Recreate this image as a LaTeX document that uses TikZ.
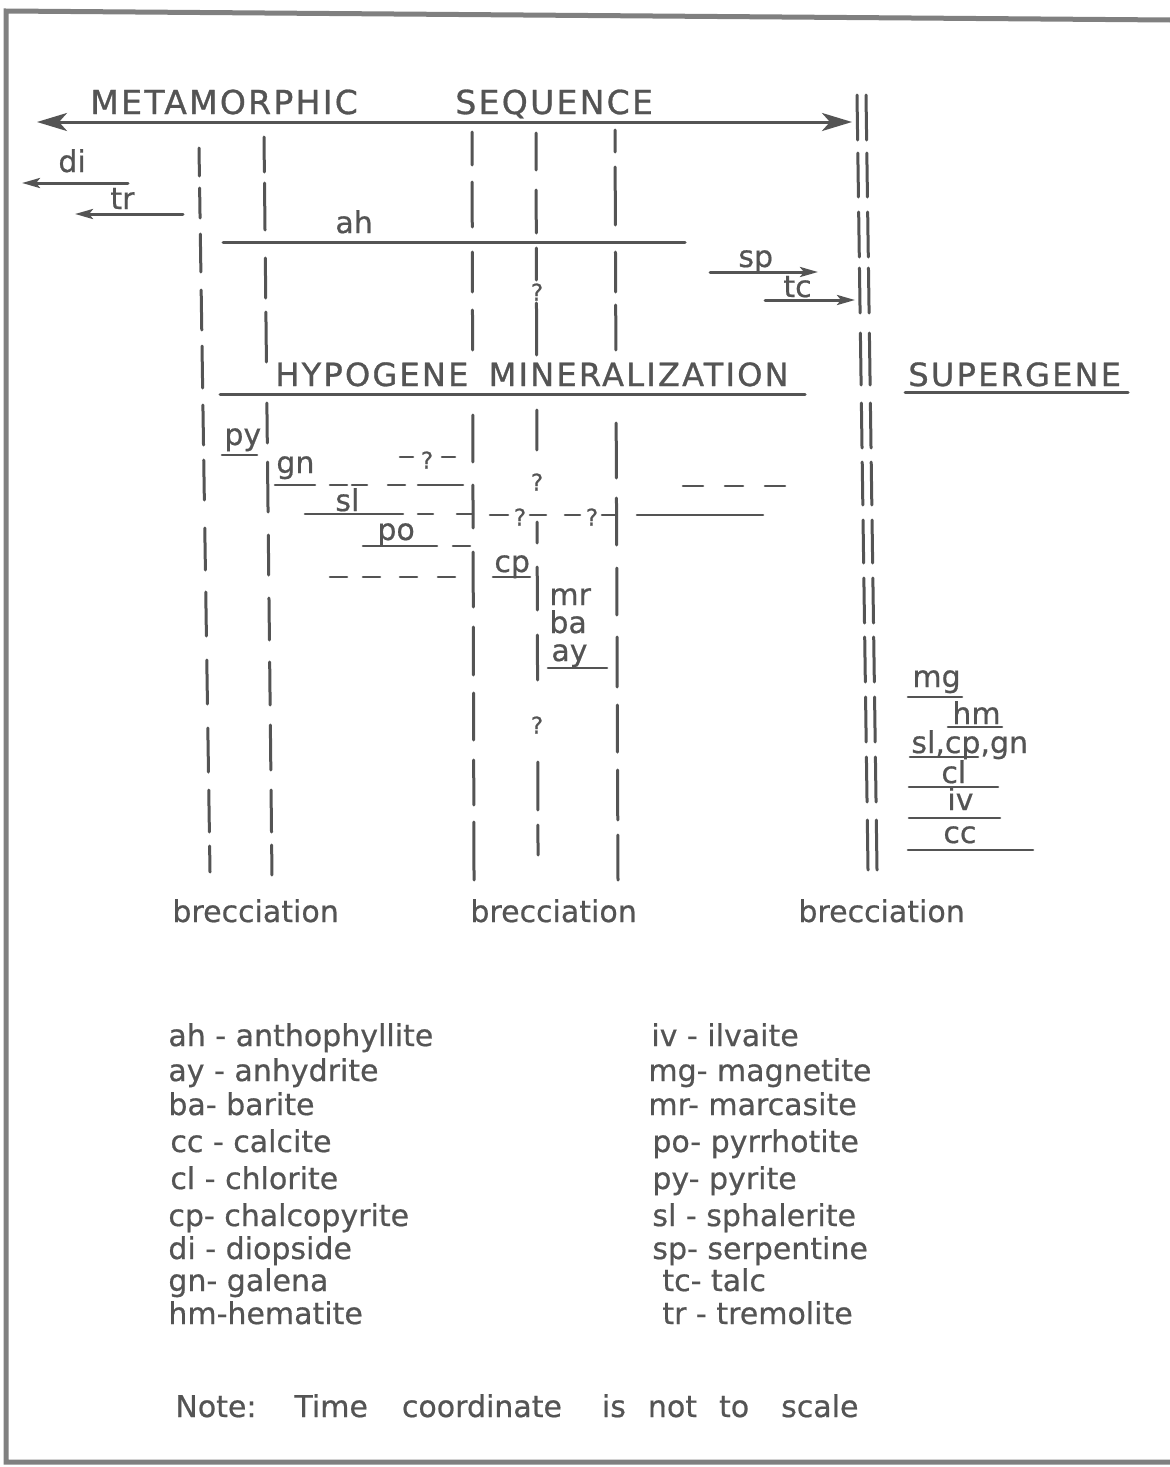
\documentclass[tikz,border=0pt]{standalone}
\usepackage{fontspec}
\setmainfont[FakeBold=0.6]{DejaVu Sans}
\newfontfamily\capsfont[LetterSpace=7,FakeBold=0.9]{DejaVu Sans}
\usetikzlibrary{arrows.meta}
\definecolor{ink}{gray}{0.33}
\definecolor{framec}{gray}{0.5}
\begin{document}
\begin{tikzpicture}[x=0.5pt,y=-0.5pt,
  bar/.style={draw=ink,line width=1.5pt,line cap=round},
  uline/.style={draw=ink,line width=1.3pt,line cap=round},
  bigarrows/.style={<->,>={Stealth[length=15pt,width=9pt,inset=4pt]}},
  smallarrow/.style={-{Stealth[length=9pt,width=5pt,inset=2pt]}},
  lbl/.style={text=ink,inner sep=0pt,anchor=base west,font=\fontsize{15}{18}\selectfont},
  head/.style={text=ink,inner sep=0pt,anchor=base west,font=\capsfont\fontsize{16.5}{20}\selectfont},
  qm/.style={text=ink,inner sep=0pt,font=\fontsize{11.5}{13}\selectfont},
  leg/.style={text=ink,inner sep=0pt,anchor=base west,font=\fontsize{15}{18}\selectfont},
  border/.style={draw=framec,line width=2.5pt}
]
\useasboundingbox (0,0) rectangle (1170,1467);
\fill[white] (0,0) rectangle (1170,1467);

% frame
\draw[border] (1170,20) -- (6,11) -- (6,1462) -- (1170,1462);

% headings
\node[head] (meta) at (90,114) {METAMORPHIC};
\node[head] (seq) at (455,114) {SEQUENCE};
\coordinate (mL) at (37,122);
\coordinate (mR) at (852,122);
\draw[bar,bigarrows] (mL) -- (mR);

% vertical time lines
% line A
\foreach \a/\b in {148/176,188/218,234/272,290/330,346/388,405/445,460/500,528/570,592/636,660/704,728/772,790/832,846/872}
  {\draw[bar] ({199+0.0152*(\a-148)},\a) -- ({199+0.0152*(\b-148)},\b);}
% line B
\foreach \a/\b in {137/172,183/230,258/298,312/362,403/443,462/512,535/575,598/640,662/705,725/770,790/832,845/875}
  {\draw[bar] ({264+0.0108*(\a-137)},\a) -- ({264+0.0108*(\b-137)},\b);}
% line C
\foreach \a/\b in {132/165,182/227,252/292,310/350,415/462,485/528,552/607,627/675,693/740,760/805,822/880}
  {\draw[bar] ({472+0.0027*(\a-132)},\a) -- ({472+0.0027*(\b-132)},\b);}
% line D
\foreach \a/\b in {133/170,190/233,248/280,303/355,410/450,522/543,567/610,635/680,762/810,825/855}
  {\draw[bar] ({536+0.0028*(\a-133)},\a) -- ({536+0.0028*(\b-133)},\b);}
% line E
\foreach \a/\b in {130/152,167/225,252/292,305/350,423/478,498/545,568/615,637/687,705/752,770/820,835/880}
  {\draw[bar] ({615+0.004*(\a-130)},\a) -- ({615+0.004*(\b-130)},\b);}
% line F (double)
\foreach \a/\b in {95/140,153/197,212/257,268/313,333/385,403/448,462/505,520/563,578/623,637/682,697/742,757/802,820/870}
  {\draw[bar] ({857+0.0142*(\a-95)},\a) -- ({857+0.0142*(\b-95)},\b);
   \draw[bar] ({866+0.0142*(\a-95)},\a) -- ({866+0.0142*(\b-95)},\b);}

% metamorphic minerals
\node[lbl] (di) at (58,172) {di};
\coordinate (di1) at (128,183); \coordinate (di0) at (22,183);
\draw[bar,smallarrow] (di1) -- (di0);
\node[lbl] (tr) at (110,209) {tr};
\coordinate (tr1) at (183,214); \coordinate (tr0) at (75,214);
\draw[bar,smallarrow] (tr1) -- (tr0);
\node[lbl] (ah) at (335,233) {ah};
\draw[bar] (223,242) -- (685,242);
\node[lbl] (sp) at (738,267) {sp};
\coordinate (sp0) at (710,272); \coordinate (sp1) at (818,272);
\draw[bar,smallarrow] (sp0) -- (sp1);
\node[lbl] (tc) at (783,297) {tc};
\coordinate (tc0) at (765,300); \coordinate (tc1) at (855,300);
\draw[bar,smallarrow] (tc0) -- (tc1);
\node[qm] (q1) at (537,292) {?};

% hypogene
\node[head,font=\capsfont\fontsize{16}{20}\selectfont] (hyp) at (275,386) {HYPOGENE\hspace{4pt} MINERALIZATION};
\draw[bar] (220,394) -- (805,394);
\node[head,font=\capsfont\fontsize{16}{20}\selectfont] (sup) at (908,386) {SUPERGENE};
\draw[bar] (905,392) -- (1128,392);

\node[lbl] (py) at (224,445) {py};
\draw[uline] (222,455) -- (257,455);

\node[lbl] (gn) at (276,473) {gn};
\draw[uline] (275,485) -- (315,485);
\foreach \a/\b in {330/347,352/367,388/405,418/463} {\draw[uline] (\a,485) -- (\b,485);}
\draw[uline] (400,457) -- (413,457);
\node[qm] (q2) at (427,460) {?};
\draw[uline] (442,457) -- (455,457);

\node[lbl] (sl) at (335,511) {sl};
\draw[uline] (305,514) -- (403,514);
\foreach \a/\b in {418/433,457/473} {\draw[uline] (\a,514) -- (\b,514);}

\node[lbl] (po) at (377,540) {po};
\draw[uline] (363,546) -- (437,546);
\draw[uline] (453,546) -- (470,546);

\foreach \a/\b in {330/347,363/380,400/417,438/455} {\draw[uline] (\a,577) -- (\b,577);}

\node[qm] (q3) at (537,482) {?};
\draw[uline] (490,515) -- (508,515);
\node[qm] (q4) at (520,517) {?};
\draw[uline] (530,515) -- (546,515);
\draw[uline] (565,515) -- (580,515);
\node[qm] (q5) at (592,517) {?};
\draw[uline] (602,515) -- (616,515);

\draw[uline] (637,515) -- (763,515);
\foreach \a/\b in {683/703,725/743,765/785} {\draw[uline] (\a,486) -- (\b,486);}

\node[lbl] (cp) at (494,572) {cp};
\draw[uline] (493,577) -- (530,577);
\node[lbl] (mr) at (549,605) {mr};
\node[lbl] (ba) at (549,633) {ba};
\node[lbl] (ay) at (551,661) {ay};
\draw[uline] (548,668) -- (607,668);
\node[qm] (q6) at (537,725) {?};

% supergene minerals
\node[lbl] (mg) at (912,687) {mg};
\draw[uline] (908,697) -- (962,697);
\node[lbl] (hm) at (952,724) {hm};
\draw[uline] (948,727) -- (1002,727);
\node[lbl] (slcpgn) at (911,753) {sl,cp,gn};
\draw[uline] (910,757) -- (978,757);
\node[lbl] (cl) at (941,783) {cl};
\draw[uline] (909,787) -- (998,787);
\node[lbl] (iv) at (947,810) {iv};
\draw[uline] (909,818) -- (1000,818);
\node[lbl] (cc) at (943,843) {cc};
\draw[uline] (908,850) -- (1033,850);

% brecciation
\node[lbl] (b1) at (172,922) {brecciation};
\node[lbl] (b2) at (470,922) {brecciation};
\node[lbl] (b3) at (798,922) {brecciation};

% legend
\node[leg] (l1) at (168,1046) {ah - anthophyllite};
\node[leg] (l2) at (168,1081) {ay - anhydrite};
\node[leg] (l3) at (168,1115) {ba- barite};
\node[leg] (l4) at (170,1152) {cc - calcite};
\node[leg] (l5) at (170,1189) {cl - chlorite};
\node[leg] (l6) at (168,1226) {cp- chalcopyrite};
\node[leg] (l7) at (168,1259) {di - diopside};
\node[leg] (l8) at (168,1291) {gn- galena};
\node[leg] (l9) at (168,1324) {hm-hematite};
\node[leg] (r1) at (651,1046) {iv - ilvaite};
\node[leg] (r2) at (648,1081) {mg- magnetite};
\node[leg] (r3) at (648,1115) {mr- marcasite};
\node[leg] (r4) at (652,1152) {po- pyrrhotite};
\node[leg] (r5) at (652,1189) {py- pyrite};
\node[leg] (r6) at (652,1226) {sl - sphalerite};
\node[leg] (r7) at (652,1259) {sp- serpentine};
\node[leg] (r8) at (662,1291) {tc- talc};
\node[leg] (r9) at (662,1324) {tr - tremolite};

\node[leg] (note) at (175,1417) {Note:\hspace{19pt}Time\hspace{17pt}coordinate\hspace{20pt}is\hspace{11pt}not\hspace{11pt}to\hspace{16pt}scale};
\end{tikzpicture}
\end{document}
